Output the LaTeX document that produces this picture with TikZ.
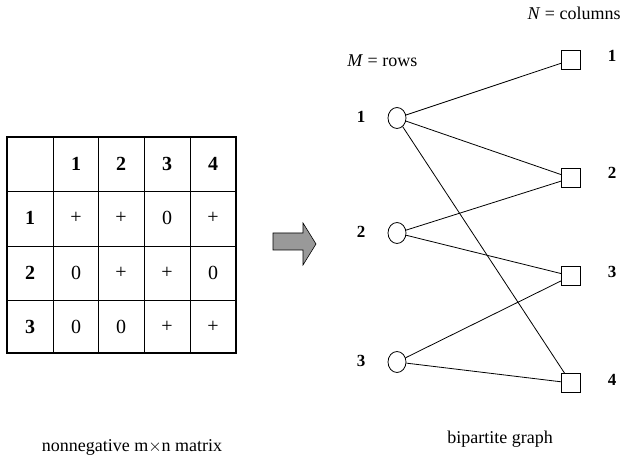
\documentclass[tikz,border=0pt]{standalone}
\usepackage{fontspec}
\setmainfont{Liberation Serif}
\usetikzlibrary{shapes.geometric}
\begin{document}
\begin{tikzpicture}[x=1pt, y=-1pt, line width=0.8pt,
    cell/.style={font=\fontsize{20}{22}\selectfont},
    head/.style={font=\fontsize{20}{22}\selectfont\bfseries},
    row node/.style={ellipse, draw, minimum width=18pt, minimum height=21pt, inner sep=0pt},
    col node/.style={draw, minimum size=19pt, inner sep=0pt},
    idx/.style={font=\fontsize{17}{19}\selectfont\bfseries},
    caption/.style={font=\fontsize{18}{20}\selectfont}]
  \useasboundingbox (0,0) rectangle (621,462);

  % matrix table
  \foreach \x in {53,98,144,190}
    \draw (\x,137) -- (\x,353);
  \foreach \y in {191,246,300}
    \draw (7,\y) -- (236,\y);
  \draw[line width=1.8pt] (7,137) rectangle (236,353);
  \foreach \c/\x in {1/76,2/121,3/167,4/213}
    \node[head] (h-\c) at (\x,164) {\c};
  \foreach \r/\y in {1/218,2/273,3/327}
    \node[head] (v-\r) at (30,\y) {\r};
  \foreach \r/\y/\a/\b/\cc/\d in {1/218/+/+/0/+, 2/273/0/+/+/0, 3/327/0/0/+/+}{
    \node[cell] (m-\r-1) at (76,\y) {\a};
    \node[cell] (m-\r-2) at (121,\y) {\b};
    \node[cell] (m-\r-3) at (167,\y) {\cc};
    \node[cell] (m-\r-4) at (213,\y) {\d};
  }
  \node[caption] (mcap) at (132,447) {nonnegative m$\times$n matrix};

  % arrow
  \draw[fill=gray!80, line width=0.6pt] (273,233) -- (303,233) -- (303,223) -- (316,244)
    -- (303,265) -- (303,250) -- (273,250) -- cycle;

  % bipartite graph
  \node[row node] (r1) at (397,118) {};
  \node[row node] (r2) at (397,233) {};
  \node[row node] (r3) at (397,362) {};
  \node[col node] (k1) at (571,60) {};
  \node[col node] (k2) at (571,178) {};
  \node[col node] (k3) at (571,276) {};
  \node[col node] (k4) at (571,383) {};
  \foreach \i/\y in {1/117,2/232,3/361}
    \node[idx] (rl-\i) at (361,\y) {\i};
  \foreach \j/\y in {1/56,2/173,3/272,4/380}
    \node[idx] (kl-\j) at (612,\y) {\j};
  \node[caption, anchor=west, inner sep=0pt] (mlab) at (347,61) {\textit{M} = rows};
  \node[caption, anchor=east, inner sep=0pt] (nlab) at (621,13) {\textit{N} = columns};
  \node[caption] (gcap) at (500,439) {bipartite graph};

  \draw (r1) -- (k1);
  \draw (r1) -- (k2);
  \draw (r1) -- (k4);
  \draw (r2) -- (k2);
  \draw (r2) -- (k3);
  \draw (r3) -- (k3);
  \draw (r3) -- (k4);
\end{tikzpicture}
\end{document}
